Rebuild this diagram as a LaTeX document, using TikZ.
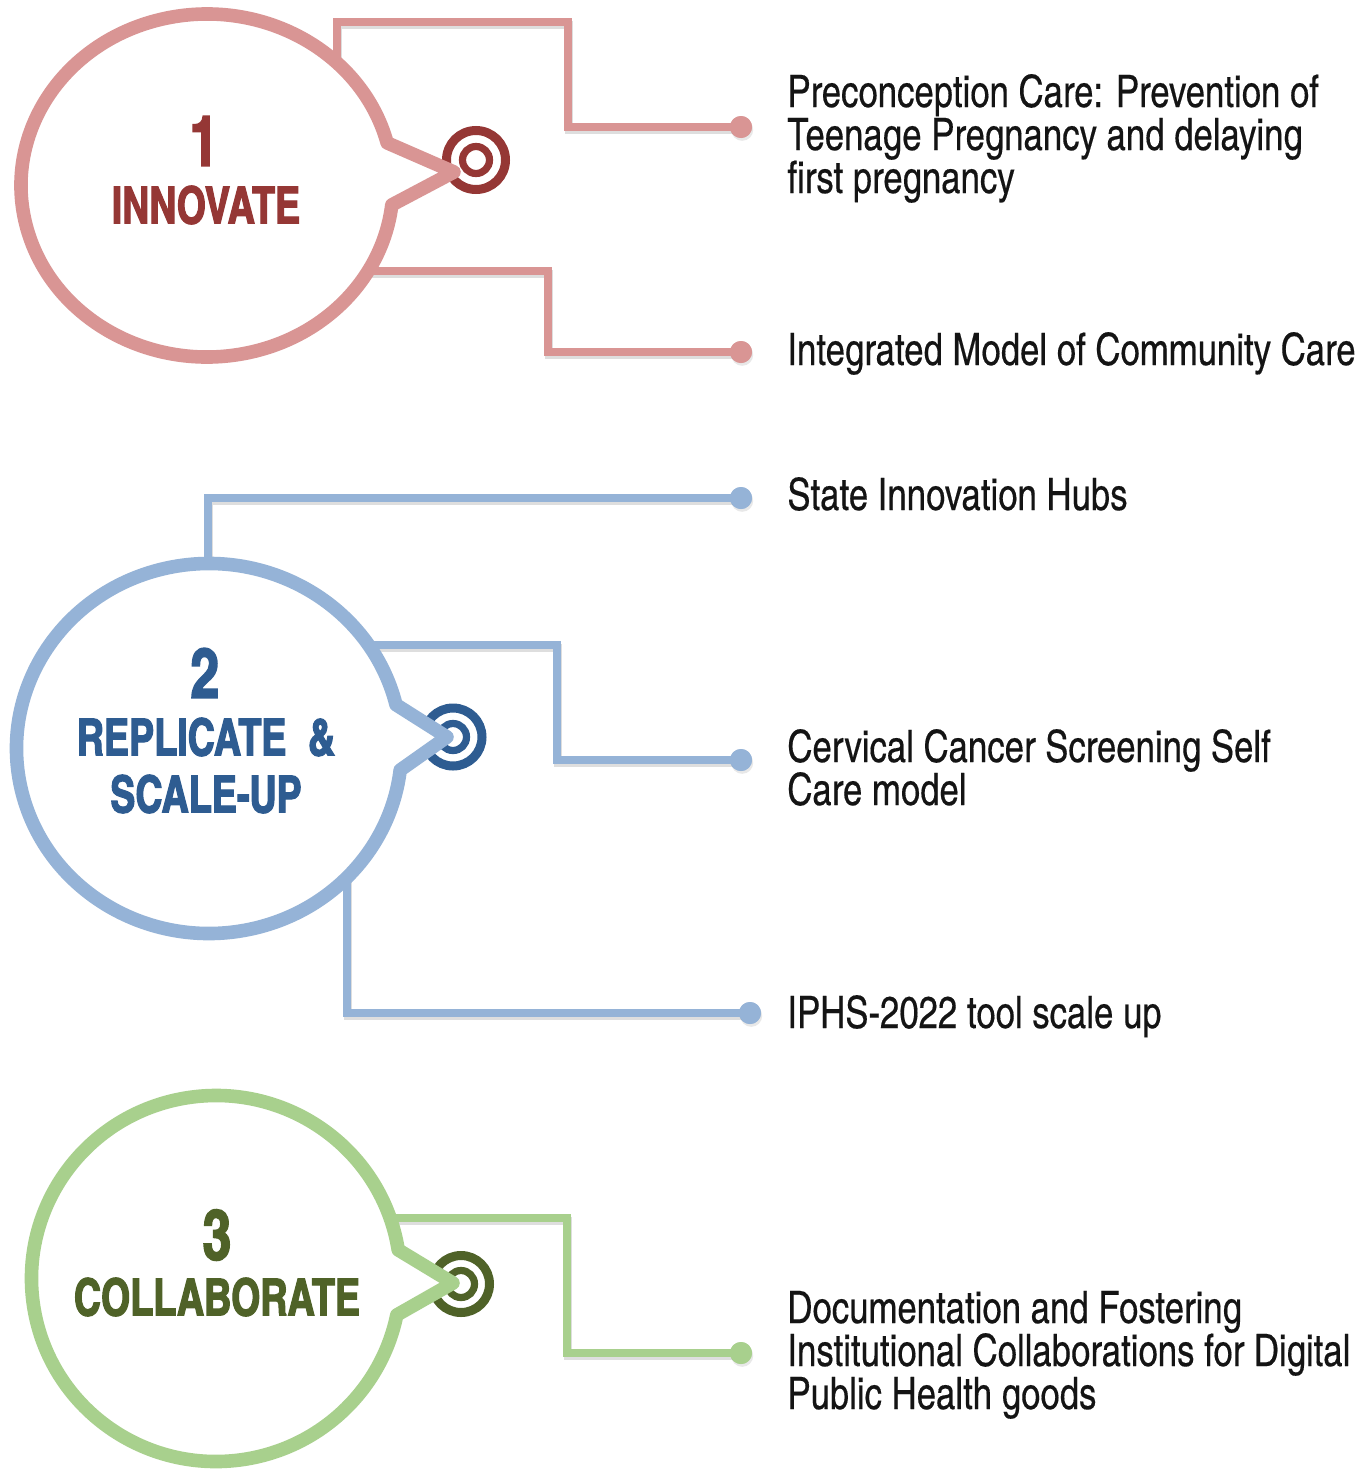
\documentclass[tikz,border=0pt]{standalone}
\usepackage{fontspec}
\setmainfont{texgyreheroscn}[Extension=.otf, UprightFont=*-regular, BoldFont=*-bold, ItalicFont=*-italic, BoldItalicFont=*-bolditalic]
\newfontfamily\rfont{texgyreheroscn}[Extension=.otf, UprightFont=*-regular, FakeBold=0.3, FakeStretch=0.95]
\newfontfamily\heavyfont{texgyreheroscn}[Extension=.otf, UprightFont=*-bold, FakeBold=2.2, FakeStretch=0.9]
\usetikzlibrary{calc,shadows}
\definecolor{pinkS}{HTML}{D99594}
\definecolor{redT}{HTML}{953735}
\definecolor{blueS}{HTML}{95B3D7}
\definecolor{blueT}{HTML}{2E5C91}
\definecolor{greenS}{HTML}{A8D08D}
\definecolor{greenT}{HTML}{4F6228}
\definecolor{txt}{HTML}{141414}
\newcommand\myconn[2]{%
  \draw[shadowln] #2;
  \draw[conn, draw=#1] #2;}
\begin{document}
\begin{tikzpicture}[x=0.5pt,y=-0.5pt,
  bubble/.style={line width=6.8pt, line join=round, fill=white},
  conn/.style={line width=4pt, line join=miter},
  shadowln/.style={line width=4pt, draw=black, opacity=0.13, line join=miter, transform canvas={shift={(0.6pt,-1.4pt)}}},
  dotnode/.style={circle, inner sep=0pt, minimum size=11pt, drop shadow={shadow xshift=0.6pt, shadow yshift=-1.4pt, opacity=0.18}},
  dottop/.style={circle, inner sep=0pt, minimum size=11pt},
  ringo/.style={line width=4.5pt},
  ringi/.style={line width=3.6pt},
  rtext/.style={font=\rfont\fontsize{22.3}{21.5}\selectfont, align=left, inner sep=0pt, text=txt, anchor=base west},
  numtext/.style={font=\heavyfont\fontsize{35}{36}\selectfont, inner sep=0pt},
  ttltext/.style={font=\heavyfont\fontsize{25.5}{26}\selectfont, inner sep=0pt}
]
\fill[white] (0,0) rectangle (1371,1472);
\useasboundingbox (0,0) rectangle (1371,1472);

% ---------- coordinates ----------
\coordinate (c1) at (207,185.5);
\coordinate (tip1) at (454,172);
\coordinate (tg1) at (476,160);
\coordinate (s1a) at (337,66);
\coordinate (k1a) at (568,22);
\coordinate (s1b) at (366,271);
\coordinate (k1b) at (548,271);

\coordinate (c2) at (209,748.5);
\coordinate (tip2) at (447,737);
\coordinate (tg2) at (453,737);
\coordinate (s2a) at (208,567);
\coordinate (s2b) at (367,645);
\coordinate (k2b) at (557,645);
\coordinate (s2c) at (347,874);

\coordinate (c3) at (216,1278.5);
\coordinate (tip3) at (453,1283);
\coordinate (tg3) at (461,1284);
\coordinate (s3) at (387,1218);
\coordinate (k3) at (567,1218);

% ---------- dots ----------
\node[dotnode, fill=pinkS] (d1a) at (741,127) {};
\node[dotnode, fill=pinkS] (d1b) at (741,352) {};
\node[dotnode, fill=blueS] (d2a) at (741,498) {};
\node[dotnode, fill=blueS] (d2b) at (741,760) {};
\node[dotnode, fill=blueS] (d2c) at (750,1013) {};
\node[dotnode, fill=greenS] (d3) at (741,1353) {};

% ---------- connectors ----------
\myconn{pinkS}{(s1a) |- (k1a) |- (d1a.center)}
\myconn{pinkS}{(s1b) -- (k1b) |- (d1b.center)}
\myconn{blueS}{(s2a) |- (d2a.center)}
\myconn{blueS}{(s2b) -- (k2b) |- (d2b.center)}
\myconn{blueS}{(s2c) |- (d2c.center)}
\myconn{greenS}{(s3) -- (k3) |- (d3.center)}

% dots on top of the lines
\node[dottop, fill=pinkS] (d1a') at (d1a) {};
\node[dottop, fill=pinkS] (d1b') at (d1b) {};
\node[dottop, fill=blueS] (d2a') at (d2a) {};
\node[dottop, fill=blueS] (d2b') at (d2b) {};
\node[dottop, fill=blueS] (d2c') at (d2c) {};
\node[dottop, fill=greenS] (d3') at (d3) {};

% ---------- targets ----------
\draw[ringo, draw=redT] (tg1) circle[radius=29.5];
\draw[ringi, draw=redT] (tg1) circle[radius=13.5];
\draw[ringo, draw=blueT] (tg2) circle[radius=29];
\draw[ringi, draw=blueT] (tg2) circle[radius=13.5];
\draw[ringo, draw=greenT] (tg3) circle[radius=28.5];
\draw[ringi, draw=greenT] (tg3) circle[radius=13.5];

% ---------- bubbles ----------
\draw[bubble, draw=pinkS] ($(c1)+(-14.4:186 and 171.5)$)
  arc[start angle=-14.4, end angle=-353.5, x radius=186, y radius=171.5] -- (tip1) -- cycle;
\draw[bubble, draw=blueS] ($(c2)+(-13.7:192.5 and 185)$)
  arc[start angle=-13.7, end angle=-353.3, x radius=192.5, y radius=185] -- (tip2) -- cycle;
\draw[bubble, draw=greenS] ($(c3)+(-9:184.5 and 183)$)
  arc[start angle=-9, end angle=-348.5, x radius=184.5, y radius=183] -- (tip3) -- cycle;

% ---------- bubble texts ----------
\node[numtext, text=redT] (n1) at (204,141) {1};
\node[ttltext, text=redT] (t1) at (206,205) {INNOVATE};
\node[numtext, text=blueT] (n2) at (205,673) {2};
\node[ttltext, text=blueT] (t2a) at (206,737) {REPLICATE\hspace{0.42em}\&};
\node[ttltext, text=blueT] (t2b) at (206,794) {SCALE-UP};
\node[numtext, text=greenT] (n3) at (217,1235) {3};
\node[ttltext, text=greenT] (t3) at (217,1297) {COLLABORATE};

% ---------- right texts (anchored at the baseline of the last line) ----------
\node[rtext] (l1a) at (787,193) {Preconception Care: Prevention of\\Teenage Pregnancy and delaying\\first pregnancy};
\node[rtext] (l1b) at (787,365) {Integrated Model of Community Care};
\node[rtext] (l2a) at (787,510) {State Innovation Hubs};
\node[rtext] (l2b) at (787,805) {Cervical Cancer Screening Self\\Care model};
\node[rtext] (l2c) at (787,1028) {IPHS-2022 tool scale up};
\node[rtext] (l3) at (787,1409) {Documentation and Fostering\\Institutional Collaborations for Digital\\Public Health goods};
\end{tikzpicture}
\end{document}
